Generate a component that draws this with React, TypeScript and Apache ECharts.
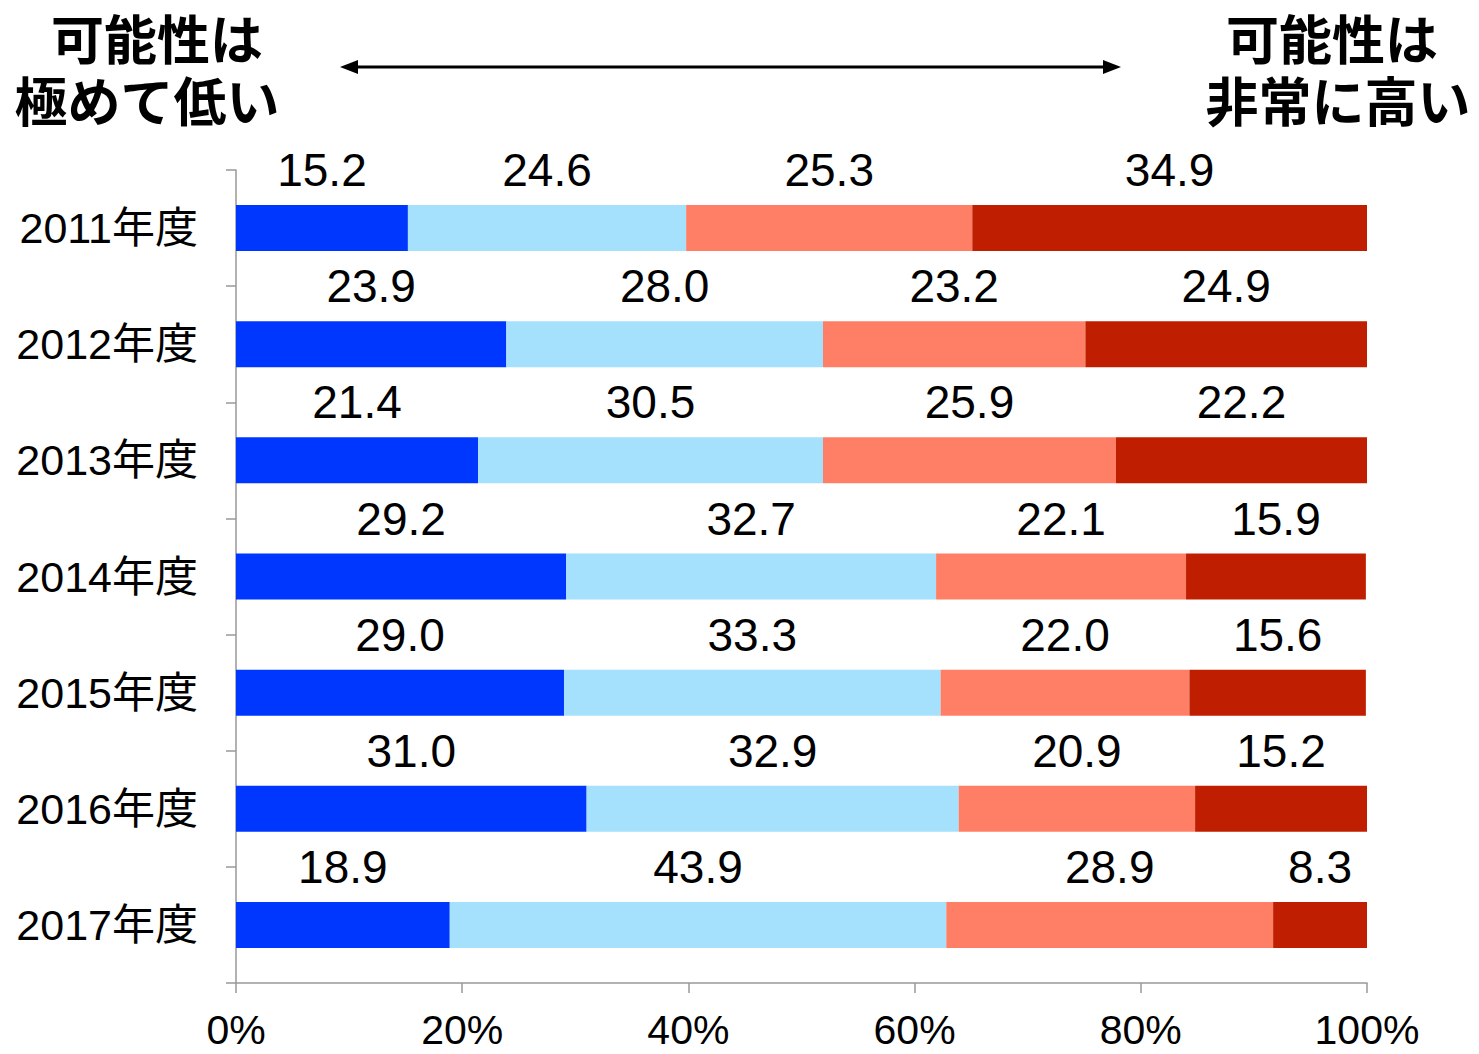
import React, { useEffect, useRef } from "react";
import * as echarts from "echarts";

const categories = ["2011年度", "2012年度", "2013年度", "2014年度", "2015年度", "2016年度", "2017年度"];
const veryLow = [15.2, 23.9, 21.4, 29.2, 29.0, 31.0, 18.9];
const low = [24.6, 28.0, 30.5, 32.7, 33.3, 32.9, 43.9];
const high = [25.3, 23.2, 25.9, 22.1, 22.0, 20.9, 28.9];
const veryHigh = [34.9, 24.9, 22.2, 15.9, 15.6, 15.2, 8.3];
const xTicks = [0, 20, 40, 60, 80, 100];
const leftTitle = ["可能性は", "極めて低い"];
const rightTitle = ["可能性は", "非常に高い"];

const seriesColors = ["#0037FF", "#A5E0FD", "#FF7F66", "#BF1F00"];
const FONT = '"Liberation Sans", Arial, "Noto Sans CJK JP", sans-serif';
const TITLE_FONT = '"Liberation Sans", "Noto Sans CJK JP", sans-serif';

export default function App() {
  const ref = useRef<HTMLDivElement>(null);
  useEffect(() => {
    if (!ref.current) return;
    const chart = echarts.init(ref.current, null, { renderer: "svg" });
    const mk = (name: string, data: number[], i: number) => ({
      name,
      type: "bar",
      stack: "total",
      barWidth: 46,
      data,
      itemStyle: { color: seriesColors[i] },
      label: {
        show: true,
        position: "top",
        distance: 12,
        color: "#000",
        fontSize: 46,
        fontFamily: FONT,
        formatter: (p: any) => Number(p.value).toFixed(1),
      },
    });
    const titleText = (text: string, x: number, y: number) => ({
      type: "text",
      x,
      y,
      style: {
        text,
        font: `bold 53px ${TITLE_FONT}`,
        lineHeight: 56,
        fill: "#000",
        textAlign: "center",
        textVerticalAlign: "middle",
      },
    });
    chart.setOption({
      animation: false,
      backgroundColor: "#fff",
      grid: { left: 236, right: 112, top: 170, bottom: 71, containLabel: false },
      xAxis: {
        type: "value",
        min: xTicks[0],
        max: xTicks[xTicks.length - 1],
        interval: 20,
        axisLine: { show: true, lineStyle: { color: "#999", width: 1.5 } },
        axisTick: { show: true, length: 10, lineStyle: { color: "#999", width: 1.5 } },
        splitLine: { show: false },
        axisLabel: {
          formatter: "{value}%",
          fontSize: 41,
          color: "#000",
          fontFamily: FONT,
          margin: 26,
        },
      },
      yAxis: {
        type: "category",
        inverse: true,
        data: categories,
        axisLine: { show: true, lineStyle: { color: "#999", width: 1.5 } },
        axisTick: { show: true, length: 10, lineStyle: { color: "#999", width: 1.5 } },
        axisLabel: {
          fontSize: 43,
          color: "#000",
          fontFamily: FONT,
          margin: 38,
        },
      },
      series: [
        mk("極めて低い", veryLow, 0),
        mk("低い", low, 1),
        mk("高い", high, 2),
        mk("非常に高い", veryHigh, 3),
      ],
      graphic: [
        titleText(leftTitle[0], 157, 41),
        titleText(leftTitle[1], 147, 103),
        titleText(rightTitle[0], 1332, 41),
        titleText(rightTitle[1], 1338, 103),
        {
          type: "line",
          shape: { x1: 352, y1: 67, x2: 1108, y2: 67 },
          style: { stroke: "#000", lineWidth: 3 },
        },
        {
          type: "polygon",
          shape: { points: [[340, 67], [358, 60], [358, 74]] },
          style: { fill: "#000" },
        },
        {
          type: "polygon",
          shape: { points: [[1121, 67], [1103, 60], [1103, 74]] },
          style: { fill: "#000" },
        },
      ],
    });
    return () => chart.dispose();
  }, []);
  return <div ref={ref} style={{ width: 1479, height: 1054, margin: -8 }} />;
}
